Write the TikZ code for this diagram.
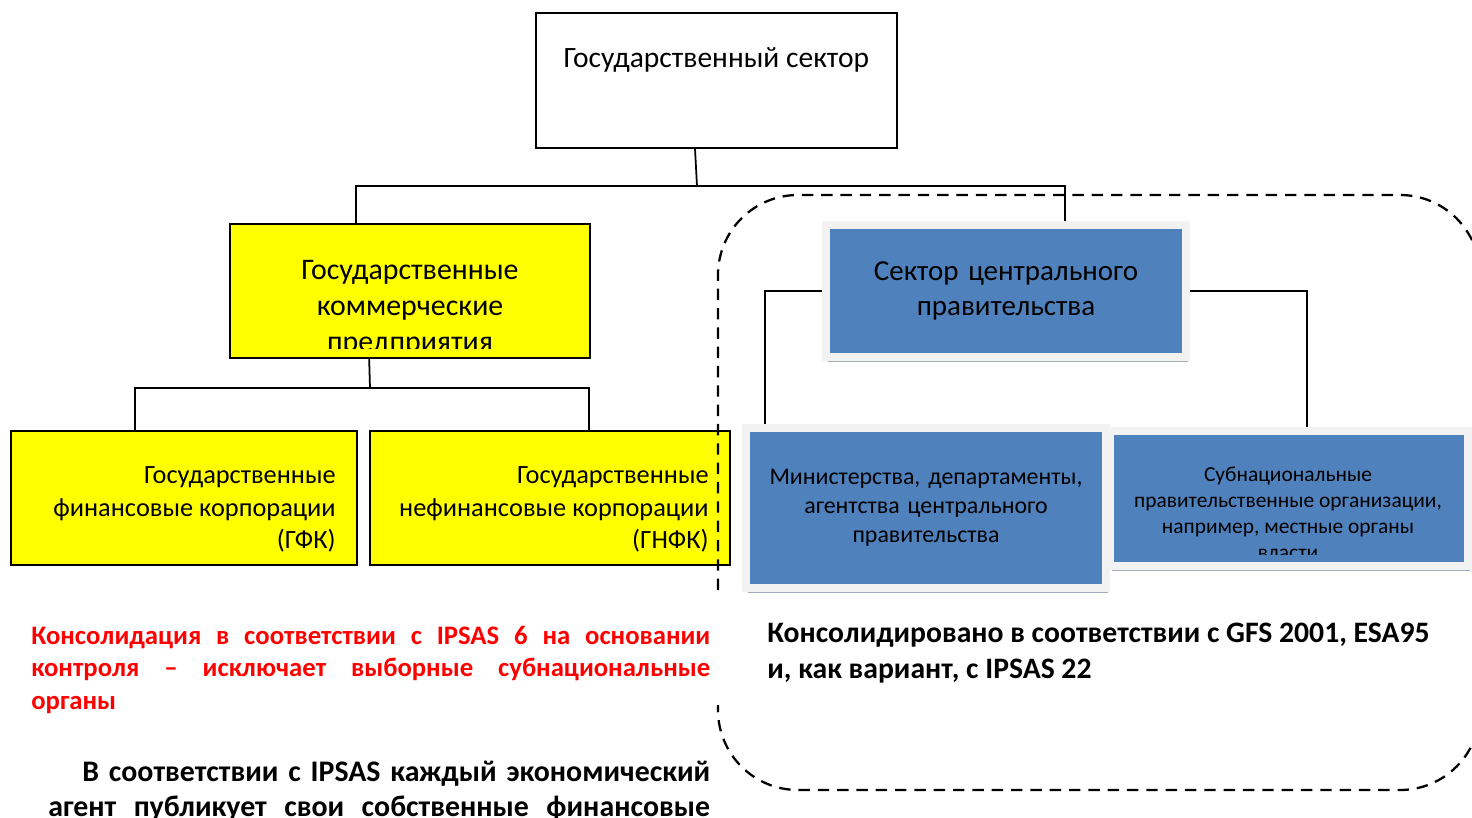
\documentclass[tikz,border=0pt]{standalone}
\usepackage{fontspec}
\setmainfont{Carlito}
\usetikzlibrary{positioning,calc,shadows}

\definecolor{govblue}{HTML}{4F81BD}
\definecolor{framegray}{HTML}{F2F2F2}
\definecolor{shadowgray}{HTML}{A3ADBE}
\definecolor{corpyellow}{HTML}{FFFF00}
\definecolor{notered}{HTML}{FF0000}

\newcommand{\nohyph}{\hyphenpenalty=10000\exhyphenpenalty=10000}

\begin{document}
\begin{tikzpicture}[x=0.02cm,y=-0.02cm,
  whitebox/.style={draw=black, line width=1pt, fill=white, inner sep=0pt},
  yellowbox/.style={draw=black, line width=1pt, fill=corpyellow, inner sep=0pt},
  bluebox/.style={draw=framegray, line width=0.16cm, fill=govblue, inner sep=0pt,
    drop shadow={shadow xshift=0.04cm, shadow yshift=-0.1cm, fill=shadowgray, opacity=1}},
  link/.style={line width=1pt},
  region/.style={line width=1.3pt, dash pattern=on 6.5pt off 4.5pt, rounded corners=1.6cm},
  note/.style={inner sep=0pt, anchor=north west, align=justify},
  ]
\useasboundingbox (0,0) rectangle (1472,818);
\clip (0,0) rectangle (1472,818);

% top level
\node[whitebox, anchor=north west, minimum width=7.22cm, minimum height=2.7cm,
  text height=1.1cm, text depth=1.6cm, font=\fontsize{16.8}{20}\selectfont]
  (pubsec) at (535,12) {Государственный сектор};

% public corporations
\node[yellowbox, minimum width=7.2cm, minimum height=2.68cm] (gcp) at (410,291) {};
\begin{scope}
\clip (232,226) rectangle (588,348);
\node[inner sep=0pt, anchor=north, align=center, font=\fontsize{17}{20.5}\selectfont]
  (gcptext) at (410,260) {Государственные\\коммерческие\\предприятия};
\end{scope}
\node[yellowbox, minimum width=6.92cm, minimum height=2.68cm] (gfk) at (184,498) {};
\node[inner sep=0pt, anchor=north east, align=right, font=\fontsize{15}{18.7}\selectfont]
  (gfktext) at (336,466) {Государственные\\финансовые корпорации\\(ГФК)};
\node[yellowbox, minimum width=7.2cm, minimum height=2.68cm] (gnfk) at (550,498) {};
\node[inner sep=0pt, anchor=north east, align=right, font=\fontsize{15}{18.7}\selectfont]
  (gnfktext) at (709,466) {Государственные\\нефинансовые корпорации\\(ГНФК)};

% consolidation region
\draw[region] (718,590) -- (718,195) -- (1480,195) -- (1480,790) -- (718,790) -- (718,705);

% central government
\node[bluebox, minimum width=7.2cm, minimum height=2.66cm, text width=6.8cm,
  align=center, font=\fontsize{16.5}{19.8}\selectfont]
  (cgov) at (1006,291) {Сектор центрального\\правительства};
\node[bluebox, minimum width=7.19cm, minimum height=3.2cm, text width=6.8cm,
  align=center, font=\fontsize{13.6}{16.4}\selectfont]
  (mins) at (926,508) {Министерства, департаменты,\\агентства центрального\\правительства\\[4pt]};
\node[bluebox, minimum width=7.17cm, minimum height=2.7cm] (subn) at (1289,498.5) {};
\begin{scope}
\clip (1113,435) rectangle (1465,554);
\node[inner sep=0pt, anchor=north, align=center, font=\fontsize{12.2}{14.7}\selectfont]
  (subntext) at (1288,467) {Субнациональные\\правительственные организации,\\например, местные органы\\власти};
\end{scope}

% connectors
\coordinate (spine) at (697,186);
\coordinate (gsplit) at (370,388);
\draw[link] ($(pubsec.south west)+(160,0)$) -- (spine);
\draw[link] ($(gcp.north west)+(127,0)$) |- (spine) -| ($(cgov.north west)+(243,0)$);
\draw[link] ($(gcp.south west)+(140,0)$) -- (gsplit);
\draw[link] ($(gfk.north west)+(125,0)$) |- (gsplit) -| ($(gnfk.north west)+(220,0)$);
\draw[link] (cgov.west) -| ($(mins.north west)+(23,0)$);
\draw[link] (cgov.east) -| ($(subn.north west)+(201,0)$);

% notes
\node[note, text width=13.58cm, text=notered,
  font=\fontsize{15.2}{18.4}\bfseries\nohyph]
  (ipsasnote) at (31,626) {Консолидация в соответствии с IPSAS 6 на основании контроля – исключает выборные субнациональные органы};
\node[note, text width=13.24cm, font=\fontsize{17}{19.8}\bfseries\nohyph]
  (agentnote) at (48,761) {\parfillskip=0pt\hspace*{0.68cm}В соответствии с IPSAS каждый экономический агент публикует свои собственные финансовые\par};
\node[note, align=left, font=\fontsize{16.9}{20.4}\bfseries]
  (gfsnote) at (767,623) {Консолидировано в соответствии с GFS 2001, ESA95\\и, как вариант, с IPSAS 22};
\end{tikzpicture}
\end{document}
